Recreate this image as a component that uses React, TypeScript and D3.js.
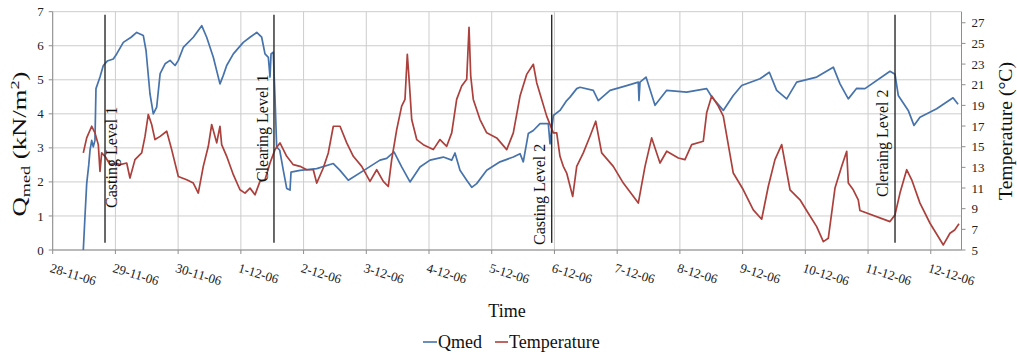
import React from "react";
import * as d3 from "d3";

// Day labels, one per midnight starting 28-11-06
const dayLabels = [
  "28-11-06", "29-11-06", "30-11-06", "1-12-06", "2-12-06", "3-12-06", "4-12-06",
  "5-12-06", "6-12-06", "7-12-06", "8-12-06", "9-12-06", "10-12-06", "11-12-06", "12-12-06",
];
const qmedTicks = [0, 1, 2, 3, 4, 5, 6, 7];
const tempTicks = [5, 7, 9, 11, 13, 15, 17, 19, 21, 23, 25, 27];

// [days since 28-11-06 00:00, Qmed kN/m²]
const qmedSeries: [number, number][] = [
  [0.488, 0], [0.515, 1.0], [0.542, 1.95], [0.575, 2.5], [0.595, 2.93], [0.622, 3.22], [0.647, 3.03],
  [0.674, 3.22], [0.69, 4.74], [0.754, 5.08], [0.807, 5.42], [0.87, 5.55], [0.966, 5.61], [1.02, 5.76],
  [1.126, 6.1], [1.25, 6.25], [1.339, 6.39], [1.445, 6.3], [1.488, 5.86], [1.551, 4.59], [1.604, 4.0],
  [1.658, 4.2], [1.713, 5.18], [1.792, 5.47], [1.871, 5.57], [1.951, 5.42], [2.003, 5.57], [2.082, 5.95],
  [2.242, 6.25], [2.376, 6.59], [2.455, 6.25], [2.561, 5.66], [2.667, 4.88], [2.72, 5.13], [2.774, 5.42],
  [2.88, 5.76], [3.039, 6.1], [3.146, 6.25], [3.253, 6.39], [3.332, 6.25], [3.385, 5.76], [3.438, 5.66],
  [3.465, 5.08], [3.481, 5.76], [3.517, 5.81], [3.544, 4.5], [3.571, 3.02], [3.62, 2.93], [3.677, 2.34],
  [3.731, 1.81], [3.784, 1.76], [3.8, 2.29], [3.943, 2.34], [4.209, 2.39], [4.474, 2.54], [4.581, 2.34],
  [4.713, 2.05], [5.006, 2.39], [5.218, 2.64], [5.325, 2.69], [5.442, 2.88], [5.564, 2.44], [5.697, 2.0],
  [5.856, 2.44], [6.016, 2.64], [6.228, 2.73], [6.362, 2.64], [6.414, 2.85], [6.494, 2.34], [6.601, 2.05],
  [6.681, 1.84], [6.76, 1.95], [6.92, 2.34], [7.132, 2.59], [7.344, 2.73], [7.451, 2.83], [7.503, 2.59],
  [7.583, 3.42], [7.663, 3.51], [7.77, 3.71], [7.902, 3.71], [7.929, 3.12], [7.982, 3.95], [8.088, 4.1],
  [8.195, 4.39], [8.248, 4.49], [8.355, 4.74], [8.408, 4.78], [8.619, 4.69], [8.699, 4.39], [8.886, 4.69],
  [9.152, 4.83], [9.337, 4.93], [9.348, 4.39], [9.364, 4.93], [9.46, 5.08], [9.603, 4.25], [9.79, 4.69],
  [10.108, 4.64], [10.427, 4.74], [10.507, 4.5], [10.692, 4.1], [10.851, 4.54], [10.985, 4.83],
  [11.277, 5.03], [11.426, 5.22], [11.543, 4.69], [11.703, 4.44], [11.862, 4.93], [12.181, 5.08],
  [12.446, 5.37], [12.553, 4.88], [12.685, 4.44], [12.819, 4.75], [12.951, 4.74], [13.35, 5.25],
  [13.43, 5.16], [13.482, 4.54], [13.641, 4.1], [13.732, 3.66], [13.828, 3.9], [14.094, 4.15],
  [14.355, 4.47], [14.435, 4.28],
];

// [days since 28-11-06 00:00, temperature °C]
const temperatureSeries: [number, number][] = [
  [0.488, 14.4], [0.542, 15.85], [0.622, 16.98], [0.674, 16.34], [0.727, 15.2], [0.754, 12.6], [0.781, 14.4],
  [0.834, 14.07], [0.914, 13.26], [0.994, 13.42], [1.074, 13.26], [1.18, 13.42], [1.232, 11.97], [1.312, 13.75],
  [1.419, 14.4], [1.472, 16.0], [1.524, 18.12], [1.578, 17.15], [1.631, 15.69], [1.713, 16.0], [1.818, 16.5],
  [1.897, 14.72], [2.003, 12.12], [2.136, 11.8], [2.242, 11.48], [2.321, 10.51], [2.401, 13.1], [2.481, 15.04],
  [2.535, 17.15], [2.615, 15.37], [2.667, 16.98], [2.694, 15.2], [2.774, 14.07], [2.88, 12.29], [2.986, 10.83],
  [3.066, 10.51], [3.146, 10.99], [3.225, 10.34], [3.305, 11.64], [3.385, 11.8], [3.465, 13.42], [3.544, 14.72],
  [3.624, 15.37], [3.731, 14.07], [3.836, 13.26], [3.943, 13.1], [4.05, 12.77], [4.155, 12.77], [4.209, 11.48],
  [4.314, 12.94], [4.394, 14.4], [4.474, 16.98], [4.581, 16.98], [4.688, 15.37], [4.793, 14.07], [4.927, 13.1],
  [5.059, 11.64], [5.166, 12.77], [5.271, 11.64], [5.351, 11.15], [5.405, 13.75], [5.485, 16.66], [5.564, 18.93],
  [5.617, 19.58], [5.654, 23.95], [5.686, 21.2], [5.724, 17.63], [5.804, 15.69], [5.909, 15.2], [6.068, 14.72],
  [6.175, 15.69], [6.282, 15.04], [6.362, 16.34], [6.441, 19.58], [6.521, 20.87], [6.601, 21.52], [6.638, 26.55],
  [6.665, 21.84], [6.706, 19.58], [6.813, 17.63], [6.92, 16.34], [7.079, 15.85], [7.239, 14.72], [7.344, 16.34],
  [7.451, 19.9], [7.557, 22.0], [7.663, 22.98], [7.717, 21.2], [7.876, 17.96], [7.982, 16.34], [8.036, 16.34],
  [8.088, 14.07], [8.141, 13.1], [8.195, 12.45], [8.291, 10.18], [8.355, 13.1], [8.46, 14.4], [8.567, 16.01],
  [8.658, 17.47], [8.753, 14.4], [8.938, 13.1], [9.098, 11.48], [9.337, 9.54], [9.444, 13.1], [9.55, 15.85],
  [9.683, 13.42], [9.79, 14.56], [9.975, 13.91], [10.081, 13.75], [10.188, 15.2], [10.373, 15.53], [10.427, 18.28],
  [10.507, 19.9], [10.612, 18.93], [10.692, 17.96], [10.851, 12.45], [11.011, 10.83], [11.17, 8.89], [11.304, 7.98],
  [11.409, 11.15], [11.516, 13.75], [11.623, 15.2], [11.756, 10.83], [11.915, 9.86], [12.047, 8.56], [12.181, 7.26],
  [12.287, 5.81], [12.366, 6.13], [12.473, 11.0], [12.58, 13.1], [12.66, 14.56], [12.685, 11.48], [12.764, 10.83],
  [12.844, 9.86], [12.871, 8.82], [13.35, 7.75], [13.43, 8.4], [13.509, 10.51], [13.616, 12.77], [13.696, 11.8],
  [13.828, 9.54], [13.988, 7.59], [14.2, 5.49], [14.306, 6.62], [14.381, 6.94], [14.45, 7.53],
];

// Construction events, days since 28-11-06 00:00
const eventNames = ["Casting Level 1", "Clearing Level 1", "Casting Level 2", "Cleraing Level 2"];
const eventDays = [0.834, 3.528, 7.956, 13.43];

const FONT = "'Liberation Serif', 'Times New Roman', Times, serif";
const BLUE = "#4673ab";
const RED = "#ab403c";

export default function App() {
  const W = 1017;
  const H = 361;
  const left = 52.7;
  const right = 961.5;
  const top = 11.7;
  const bottom = 250;

  const x = d3.scaleLinear().domain([0, 14.49]).range([left, right]);
  const yQ = d3.scaleLinear().domain([0, 7]).range([bottom, top]);
  const yT = d3.scaleLinear().domain([5, 28.07]).range([bottom, top]);

  const qLine = d3.line<[number, number]>().x((d) => x(d[0])).y((d) => yQ(d[1]));
  const tLine = d3.line<[number, number]>().x((d) => x(d[0])).y((d) => yT(d[1]));

  const days = dayLabels.map((_, i) => i);

  // label placement for each event marker: baseline offset from the line and bottom end of the text
  const eventLabelLayout = [
    { dx: 12, bottom: 208 },
    { dx: -6, bottom: 182 },
    { dx: -7, bottom: 245 },
    { dx: -7, bottom: 197 },
  ];

  const grid = "#cdcdcd";
  const axis = "#8e8e8e";
  const textStyle = { fontFamily: FONT };

  return (
    <svg
      width={W}
      height={H}
      style={{ position: "absolute", left: 0, top: 0, background: "#fff", fontFamily: FONT }}
    >
      <rect width={W} height={H} fill="#fff" />
      {/* horizontal gridlines */}
      {qmedTicks.map((t) => (
        <line key={"h" + t} x1={left} x2={right} y1={yQ(t)} y2={yQ(t)} stroke={grid} strokeWidth={1} />
      ))}
      {/* vertical gridlines */}
      {days.map((d) => (
        <line key={"v" + d} x1={x(d)} x2={x(d)} y1={top} y2={bottom} stroke={grid} strokeWidth={1} />
      ))}

      {/* axes */}
      <line x1={left} x2={left} y1={top} y2={bottom} stroke={axis} strokeWidth={1} />
      <line x1={right} x2={right} y1={top} y2={bottom} stroke={axis} strokeWidth={1} />
      <line x1={left} x2={right} y1={bottom} y2={bottom} stroke={axis} strokeWidth={1} />

      {qmedTicks.map((t) => (
        <g key={"lt" + t}>
          <line x1={left - 4} x2={left} y1={yQ(t)} y2={yQ(t)} stroke={axis} />
          <text x={left - 9} y={yQ(t)} dy="0.35em" textAnchor="end" fontSize={13} fill="#222" style={textStyle}>
            {t}
          </text>
        </g>
      ))}
      {tempTicks.map((t) => (
        <g key={"rt" + t}>
          <line x1={right} x2={right + 4} y1={yT(t)} y2={yT(t)} stroke={axis} />
          <text x={right + 10} y={yT(t)} dy="0.35em" textAnchor="start" fontSize={13} fill="#222" style={textStyle}>
            {t}
          </text>
        </g>
      ))}
      {days.map((d, i) => (
        <g key={"xt" + d}>
          <line x1={x(d)} x2={x(d)} y1={bottom} y2={bottom + 4} stroke={axis} />
          <text
            transform={`translate(${x(d) - 1},${bottom + 14}) rotate(17)`}
            y={8}
            fontSize={13}
            fill="#222"
            style={textStyle}
          >
            {dayLabels[i]}
          </text>
        </g>
      ))}

      {/* data */}
      <path d={qLine(qmedSeries) ?? ""} fill="none" stroke={BLUE} strokeWidth={1.7} strokeLinejoin="round" />
      <path d={tLine(temperatureSeries) ?? ""} fill="none" stroke={RED} strokeWidth={1.7} strokeLinejoin="round" />

      {/* event markers */}
      {eventDays.map((d, i) => (
        <g key={"ev" + i}>
          <line x1={x(d)} x2={x(d)} y1={yQ(6.91)} y2={yQ(0.21)} stroke="#2a2a2a" strokeWidth={1.4} />
          <text
            transform={`translate(${x(d) + eventLabelLayout[i].dx},${eventLabelLayout[i].bottom}) rotate(-90)`}
            fontSize={16}
            fill="#111"
            style={textStyle}
          >
            {eventNames[i]}
          </text>
        </g>
      ))}

      {/* axis titles */}
      <text
        transform={`translate(26,144) rotate(-90)`}
        textAnchor="middle"
        fontSize={19}
        fill="#111"
        style={textStyle}
        textLength={145}
        lengthAdjust="spacingAndGlyphs"
      >
        Q<tspan fontSize={13} dy={4}>med</tspan>
        <tspan dy={-4}> (kN/m</tspan>
        <tspan fontSize={13} dy={-7}>2</tspan>
        <tspan dy={7}>)</tspan>
      </text>
      <text
        transform={`translate(1012,131) rotate(-90)`}
        textAnchor="middle"
        fontSize={19}
        fill="#111"
        style={textStyle}
        textLength={138}
        lengthAdjust="spacingAndGlyphs"
      >
        Temperature (°C)
      </text>
      <text x={507} y={317} textAnchor="middle" fontSize={18} fill="#111" style={textStyle}>
        Time
      </text>

      {/* legend */}
      <line x1={423} x2={437} y1={342} y2={342} stroke={BLUE} strokeWidth={1.6} />
      <text x={438} y={348} fontSize={18} fill="#111" style={textStyle}>Qmed</text>
      <line x1={495} x2={508} y1={342} y2={342} stroke={RED} strokeWidth={1.6} />
      <text x={509} y={348} fontSize={18} fill="#111" style={textStyle}>Temperature</text>
    </svg>
  );
}
